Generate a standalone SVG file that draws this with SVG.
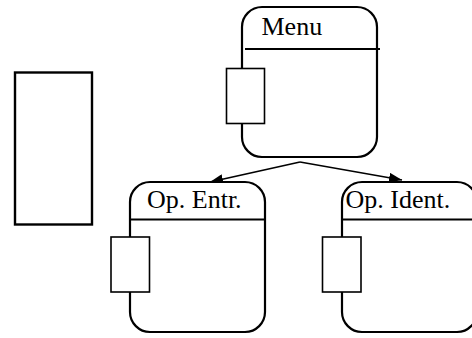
<svg xmlns="http://www.w3.org/2000/svg" width="472" height="338" viewBox="0 0 472 338">
  <style>
    .state { fill: #ffffff; stroke: #000000; stroke-width: 2.2; }
    .divider { stroke: #000000; stroke-width: 2.2; fill: none; }
    .port { fill: #ffffff; stroke: #000000; stroke-width: 1.6; }
    .label { font-family: "Liberation Serif", "Times New Roman", serif; font-size: 26px; fill: #000000; }
    .link { stroke: #000000; stroke-width: 1.5; fill: none; }
  </style>
  <defs>
    <marker id="arrow" markerUnits="userSpaceOnUse" markerWidth="14" markerHeight="10" refX="13" refY="5" orient="auto">
      <path d="M0,0 L13,5 L0,10 Z" fill="#000000"/>
    </marker>
  </defs>
  <rect width="472" height="338" fill="#ffffff"/>

  <!-- free-standing block on the left -->
  <g id="block">
    <rect x="15" y="72.5" width="77" height="152" fill="#ffffff" stroke="#000000" stroke-width="2.4"/>
  </g>

  <!-- connectors -->
  <g id="connectors">
    <line class="link" x1="300" y1="162" x2="210" y2="182" marker-end="url(#arrow)"/>
    <line class="link" x1="300" y1="162" x2="402" y2="180" marker-end="url(#arrow)"/>
  </g>

  <g id="menu">
    <rect class="state" x="242" y="7" width="135" height="150" rx="20" ry="20"/>
    <line class="divider" x1="245" y1="49" x2="380" y2="49"/>
    <rect class="port" x="226.5" y="68.5" width="38" height="55"/>
    <text class="label" x="261.5" y="35">Menu</text>
  </g>

  <g id="op-entr">
    <rect class="state" x="130" y="182" width="135" height="150" rx="20" ry="20"/>
    <line class="divider" x1="130" y1="219.5" x2="265" y2="219.5"/>
    <rect class="port" x="111" y="237" width="38.5" height="55"/>
    <text class="label" x="147" y="208">Op. Entr.</text>
  </g>

  <g id="op-ident">
    <rect class="state" x="342" y="182" width="135" height="150" rx="20" ry="20"/>
    <line class="divider" x1="342" y1="219.5" x2="477" y2="219.5"/>
    <rect class="port" x="322.5" y="237" width="38.5" height="55"/>
    <text class="label" x="345.5" y="208">Op. Ident.</text>
  </g>
</svg>
